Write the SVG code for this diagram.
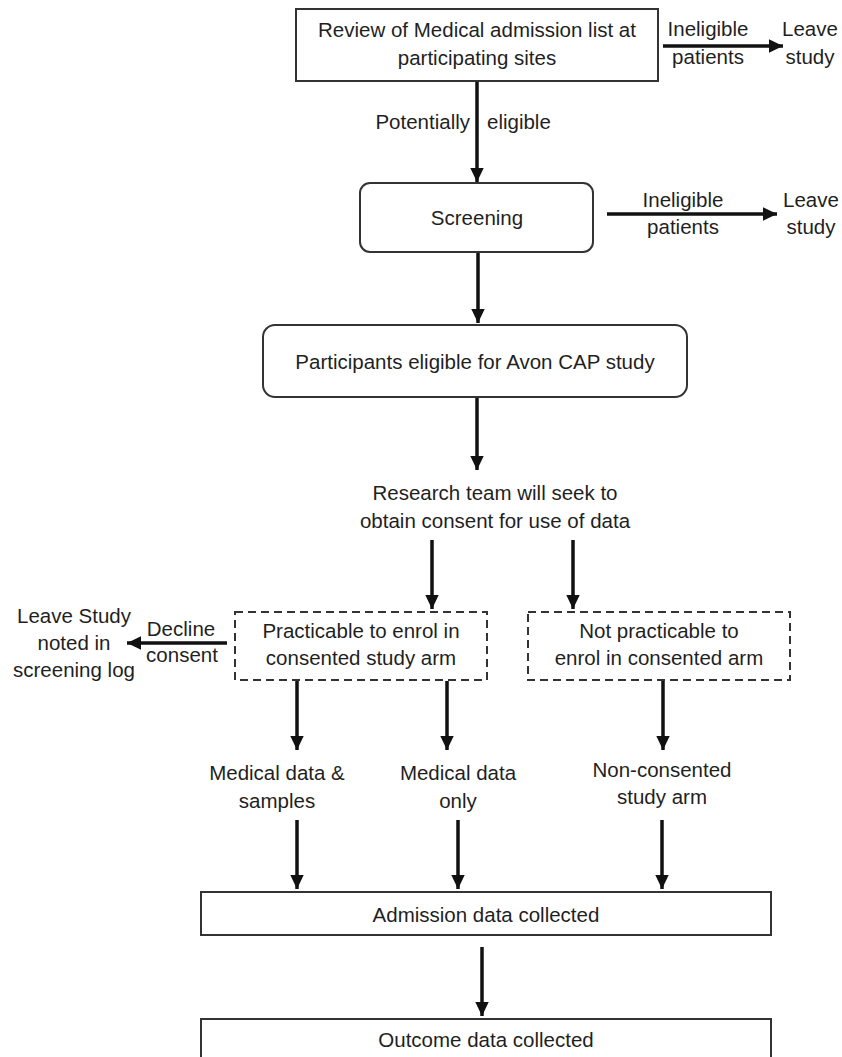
<svg xmlns="http://www.w3.org/2000/svg" width="842" height="1057" viewBox="0 0 842 1057">
<defs>
<marker id="ah" markerUnits="userSpaceOnUse" markerWidth="15" markerHeight="15" viewBox="0 0 15 15" refX="14" refY="7.5" orient="auto">
<path d="M0,0.8 L14,7.5 L0,14.2 Z" fill="#111"/>
</marker>
<style>
text{font-family:"Liberation Sans",Arial,sans-serif;font-size:20.5px;fill:#1f1f1f;text-anchor:middle}
.box{fill:#fff;stroke:#333;stroke-width:2}
.dash{fill:#fff;stroke:#333;stroke-width:2;stroke-dasharray:8 5}
.arr{stroke:#111;stroke-width:3.5;fill:none;marker-end:url(#ah)}
</style>
</defs>
<rect width="842" height="1057" fill="#fff"/>
<g id="connectors">
<line class="arr" x1="477" y1="81" x2="477" y2="182"/>
<line class="arr" x1="478" y1="252" x2="478" y2="323"/>
<line class="arr" x1="477" y1="397" x2="477" y2="470"/>
<line class="arr" x1="432" y1="540" x2="432" y2="609"/>
<line class="arr" x1="573" y1="540" x2="573" y2="609"/>
<line class="arr" x1="227" y1="643" x2="127" y2="643"/>
<line class="arr" x1="297" y1="681" x2="297" y2="750"/>
<line class="arr" x1="447" y1="681" x2="447" y2="750"/>
<line class="arr" x1="663" y1="681" x2="663" y2="750"/>
<line class="arr" x1="297" y1="820" x2="297" y2="889"/>
<line class="arr" x1="458" y1="820" x2="458" y2="889"/>
<line class="arr" x1="662" y1="820" x2="662" y2="889"/>
<line class="arr" x1="482" y1="947" x2="482" y2="1016"/>
<line class="arr" x1="663" y1="46" x2="783" y2="46"/>
<line class="arr" x1="607" y1="214" x2="777" y2="214"/>
<text x="470" y="129" style="text-anchor:end">Potentially</text>
<text x="487" y="129" style="text-anchor:start">eligible</text>
<text x="708" y="36">Ineligible</text>
<text x="708" y="64">patients</text>
<text x="683" y="207">Ineligible</text>
<text x="683" y="234">patients</text>
<text x="181" y="636">Decline</text>
<text x="182" y="662">consent</text>
</g>
<g id="review">
<rect class="box" x="296" y="9" width="362" height="72"/>
<text x="477" y="37">Review of Medical admission list at</text>
<text x="477" y="65">participating sites</text>
</g>
<g id="leave1">
<text x="810" y="36">Leave</text>
<text x="810" y="64">study</text>
</g>
<g id="screening">
<rect class="box" x="360" y="183" width="233" height="69" rx="10"/>
<text x="477" y="225">Screening</text>
</g>
<g id="leave2">
<text x="811" y="207">Leave</text>
<text x="811" y="234">study</text>
</g>
<g id="eligible">
<rect class="box" x="263" y="325" width="424" height="72" rx="12"/>
<text x="475" y="369">Participants eligible for Avon CAP study</text>
</g>
<g id="consent">
<text x="495" y="500">Research team will seek to</text>
<text x="495" y="528">obtain consent for use of data</text>
</g>
<g id="practicable">
<rect class="dash" x="235" y="612" width="252" height="68"/>
<text x="361" y="638">Practicable to enrol in</text>
<text x="361" y="665">consented study arm</text>
</g>
<g id="notpracticable">
<rect class="dash" x="528" y="612" width="262" height="68"/>
<text x="659" y="638">Not practicable to</text>
<text x="659" y="665">enrol in consented arm</text>
</g>
<g id="leave3">
<text x="74" y="623">Leave Study</text>
<text x="74" y="650">noted in</text>
<text x="74" y="677">screening log</text>
</g>
<g id="samples">
<text x="277" y="780">Medical data &amp;</text>
<text x="277" y="808">samples</text>
</g>
<g id="dataonly">
<text x="458" y="780">Medical data</text>
<text x="458" y="808">only</text>
</g>
<g id="nonconsented">
<text x="662" y="777">Non-consented</text>
<text x="662" y="804">study arm</text>
</g>
<g id="admission">
<rect class="box" x="201" y="892" width="570" height="43"/>
<text x="486" y="922">Admission data collected</text>
</g>
<g id="outcome">
<rect class="box" x="201" y="1019" width="570" height="50"/>
<text x="486" y="1047">Outcome data collected</text>
</g>
</svg>
